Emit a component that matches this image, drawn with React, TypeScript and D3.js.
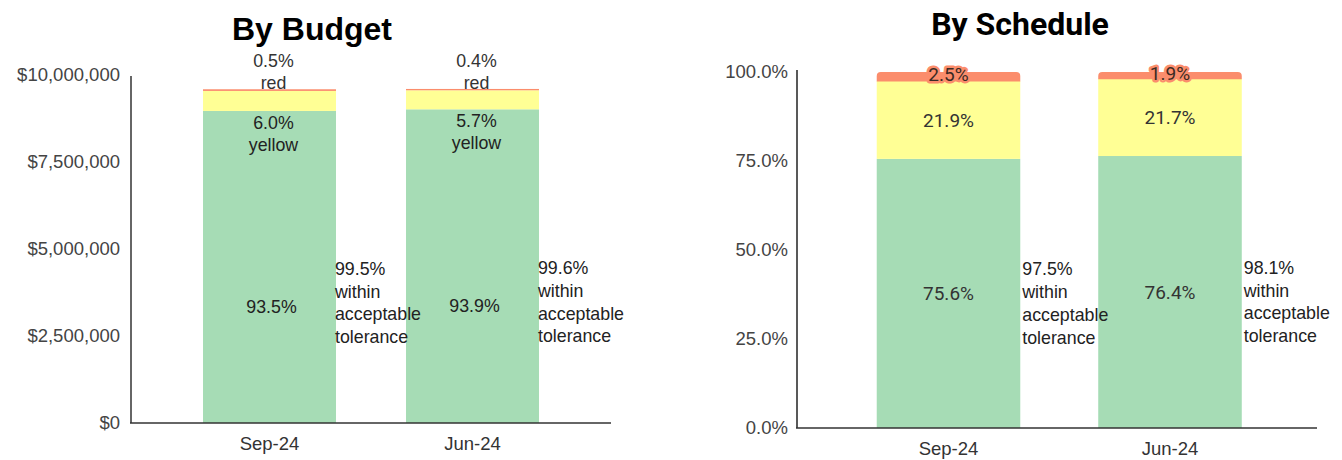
import React from "react";
import * as d3 from "d3";

const categories = ["Sep-24", "Jun-24"];

// By Budget (dollars)
const budgetGreen = [8967000, 9014000];
const budgetYellow = [575000, 547000];
const budgetRed = [48000, 38000];
const budgetGreenPct = ["93.5%", "93.9%"];
const budgetYellowPct = ["6.0%", "5.7%"];
const budgetRedPct = ["0.5%", "0.4%"];
const budgetWithin = ["99.5%", "99.6%"];
const budgetTicks = [0, 2500000, 5000000, 7500000, 10000000];

// By Schedule (percent)
const scheduleGreen = [75.6, 76.4];
const scheduleYellow = [21.9, 21.7];
const scheduleRed = [2.5, 1.9];
const scheduleWithin = ["97.5%", "98.1%"];
const scheduleTicks = [0, 25, 50, 75, 100];

const GREEN = "#a6dcb5";
const YELLOW = "#ffff95";
const RED = "#fb8d6c";
const SANS = "'Liberation Sans', Arial, sans-serif";
const ROBOTO = "Roboto, 'Liberation Sans', sans-serif";

function roundedTop(x: number, y: number, w: number, h: number, r: number) {
  const rr = Math.min(r, h, w / 2);
  return `M${x},${y + h}V${y + rr}Q${x},${y} ${x + rr},${y}H${x + w - rr}Q${x + w},${y} ${x + w},${y + rr}V${y + h}Z`;
}

function WithinLabel({ x, y, pct }: { x: number; y: number; pct: string }) {
  const lines = [pct, "within", "acceptable", "tolerance"];
  return (
    <text x={x} y={y} fontFamily={SANS} fontSize={17.8} fill="#222">
      {lines.map((l, i) => (
        <tspan key={i} x={x} dy={i === 0 ? 0 : 22.7}>
          {l}
        </tspan>
      ))}
    </text>
  );
}

function BudgetChart() {
  const y = d3.scaleLinear().domain([0, 10000000]).range([423, 75]);
  const x = d3.scaleBand<string>().domain(categories).range([168, 574]).paddingInner(0.345).paddingOuter(0.1725);
  const fmt = (v: number) => "$" + d3.format(",")(v);
  const bw = x.bandwidth();
  return (
    <g>
      <text x={312} y={40} textAnchor="middle" fontFamily={SANS} fontWeight="bold" fontSize={32} fill="#000">
        By Budget
      </text>
      {budgetTicks.map((t) => (
        <text key={t} x={120} y={y(t)} dy="0.35em" textAnchor="end" fontFamily={SANS} fontSize={18.5} fill="#444">
          {fmt(t)}
        </text>
      ))}
      {categories.map((c, i) => {
        const x0 = x(c)!;
        const g = budgetGreen[i];
        const yl = budgetYellow[i];
        const r = budgetRed[i];
        const top = y(g + yl + r);
        return (
          <g key={c}>
            <rect x={x0} y={y(g)} width={bw} height={y(0) - y(g)} fill={GREEN} />
            <rect x={x0} y={y(g + yl)} width={bw} height={y(g) - y(g + yl)} fill={YELLOW} />
            <rect x={x0} y={top} width={bw} height={y(g + yl) - top} fill={RED} />
          </g>
        );
      })}
      {categories.map((c, i) => {
        const x0 = x(c)!;
        const g = budgetGreen[i];
        const yl = budgetYellow[i];
        const r = budgetRed[i];
        const cx = x0 + bw / 2;
        const lx = cx + 4;
        const top = y(g + yl + r);
        return (
          <g key={c + "-labels"}>
            <text x={lx} y={top - 22} textAnchor="middle" fontFamily={SANS} fontSize={17.8} fill="#333">
              {budgetRedPct[i]}
            </text>
            <text x={lx} y={top} textAnchor="middle" fontFamily={SANS} fontSize={17.8} fill="#333">
              red
            </text>
            <text x={lx} y={y(g) + 18} textAnchor="middle" fontFamily={SANS} fontSize={17.8} fill="#222">
              {budgetYellowPct[i]}
            </text>
            <text x={lx} y={y(g) + 40} textAnchor="middle" fontFamily={SANS} fontSize={17.8} fill="#222">
              yellow
            </text>
            <text x={lx - 2} y={y(g / 2) + 46} textAnchor="middle" fontFamily={SANS} fontSize={17.8} fill="#222">
              {budgetGreenPct[i]}
            </text>
            <WithinLabel x={x0 + bw - 1} y={y(g / 2) + 8} pct={budgetWithin[i]} />
            <text x={cx} y={450} textAnchor="middle" fontFamily={SANS} fontSize={18.5} fill="#333">
              {c}
            </text>
          </g>
        );
      })}
      <line x1={131} x2={131} y1={76} y2={y(0)} stroke="#333" strokeWidth={1.5} />
      <line x1={130} x2={611} y1={y(0)} y2={y(0)} stroke="#333" strokeWidth={1.5} />
    </g>
  );
}

function ScheduleChart() {
  const y = d3.scaleLinear().domain([0, 100]).range([428, 72]);
  const x = d3.scaleBand<string>().domain(categories).range([837.75, 1280.75]).paddingInner(0.352).paddingOuter(0.176);
  const fmt = (v: number) => d3.format(".1f")(v) + "%";
  const bw = x.bandwidth();
  return (
    <g>
      <text x={1020} y={35} textAnchor="middle" fontFamily={ROBOTO} fontWeight="bold" fontSize={32} fill="#000">
        By Schedule
      </text>
      {scheduleTicks.map((t) => (
        <text key={t} x={788} y={y(t)} dy="0.35em" textAnchor="end" fontFamily={SANS} fontSize={18.5} fill="#444">
          {fmt(t)}
        </text>
      ))}
      {categories.map((c, i) => {
        const x0 = x(c)!;
        const g = scheduleGreen[i];
        const yl = scheduleYellow[i];
        const r = scheduleRed[i];
        const top = y(g + yl + r);
        return (
          <g key={c}>
            <rect x={x0} y={y(g)} width={bw} height={y(0) - y(g)} fill={GREEN} />
            <rect x={x0} y={y(g + yl)} width={bw} height={y(g) - y(g + yl)} fill={YELLOW} />
            <path d={roundedTop(x0, top, bw, y(g + yl) - top + 0.5, 4)} fill={RED} />
          </g>
        );
      })}
      {categories.map((c, i) => {
        const x0 = x(c)!;
        const g = scheduleGreen[i];
        const yl = scheduleYellow[i];
        const r = scheduleRed[i];
        const cx = x0 + bw / 2;
        const top = y(g + yl + r);
        const redMid = (top + y(g + yl)) / 2;
        return (
          <g key={c + "-labels"}>
            <text
              x={cx}
              y={redMid + 5}
              textAnchor="middle"
              fontFamily={ROBOTO}
              fontSize={19}
              fill="#3a2a24"
              stroke={RED}
              strokeWidth={5}
              strokeLinejoin="round"
              paintOrder="stroke"
            >
              {r.toFixed(1) + "%"}
            </text>
            <text x={cx} y={(y(g) + y(g + yl)) / 2} dy="0.36em" textAnchor="middle" fontFamily={ROBOTO} fontSize={19} fill="#333">
              {yl.toFixed(1) + "%"}
            </text>
            <text x={cx} y={y(g / 2)} dy="0.36em" textAnchor="middle" fontFamily={ROBOTO} fontSize={19} fill="#333">
              {g.toFixed(1) + "%"}
            </text>
            <WithinLabel x={x0 + bw + 2} y={y(g / 2) - 18} pct={scheduleWithin[i]} />
            <text x={cx} y={455} textAnchor="middle" fontFamily={SANS} fontSize={18.5} fill="#333">
              {c}
            </text>
          </g>
        );
      })}
      <line x1={797} x2={797} y1={70} y2={y(0)} stroke="#222" strokeWidth={1.5} />
      <line x1={796} x2={1317} y1={y(0)} y2={y(0)} stroke="#333" strokeWidth={1.5} />
    </g>
  );
}

export default function App() {
  return (
    <svg
      width={1342}
      height={460}
      viewBox="0 0 1342 460"
      style={{ position: "absolute", left: 0, top: 0, background: "#fff" }}
    >
      <rect x={0} y={0} width={1342} height={460} fill="#fff" />
      <BudgetChart />
      <ScheduleChart />
    </svg>
  );
}
